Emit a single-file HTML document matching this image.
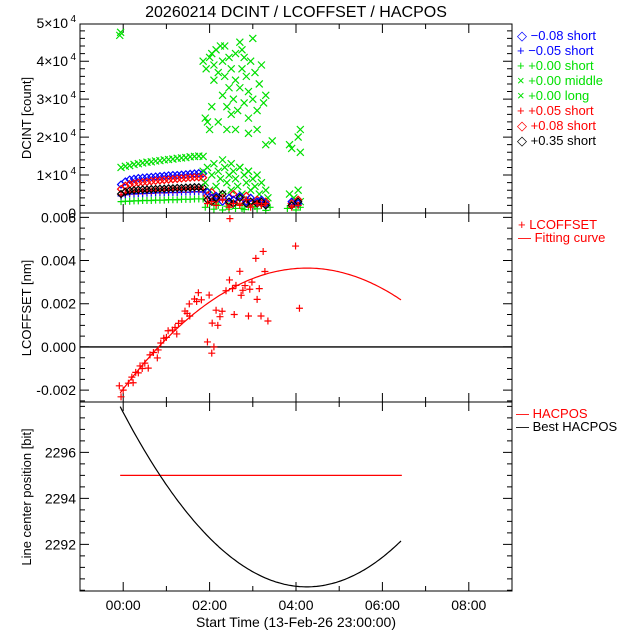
<!DOCTYPE html>
<html><head><meta charset="utf-8">
<style>
html,body{margin:0;padding:0;background:#fff;}
svg{display:block;font-family:"Liberation Sans",sans-serif;}
</style></head>
<body>
<svg id="chart" width="640" height="640" viewBox="0 0 640 640" xmlns="http://www.w3.org/2000/svg">
<rect x="0" y="0" width="640" height="640" fill="#fff"/>
<text x="296" y="17" font-size="16" text-anchor="middle" fill="#000">20260214 DCINT / LCOFFSET / HACPOS</text>
</svg>
<script>
// ---------- data ----------
const xTickLabels = ["00:00","02:00","04:00","06:00","08:00"];
const xTickHours = [0,2,4,6,8];
const bandT = [-0.05,0.05,0.15,0.25,0.35,0.45,0.55,0.65,0.75,0.85,0.95,1.05,1.15,1.25,1.35,1.45,1.55,1.65,1.75,1.85];
const greenLowBand = [3.0,3.1,3.1,3.2,3.2,3.3,3.3,3.3,3.4,3.4,3.4,3.5,3.5,3.5,3.6,3.6,3.6,3.7,3.7,3.7];
const greenHighBand = [12.0,12.3,12.5,12.8,13.0,13.2,13.4,13.5,13.7,13.8,14.0,14.1,14.2,14.4,14.5,14.6,14.8,14.9,15.0,14.9];
const blueDiamondBand = [7.5,8.3,8.8,9.0,9.2,9.3,9.4,9.5,9.6,9.7,9.8,9.9,10.0,10.0,10.1,10.2,10.3,10.4,10.5,10.4];
const redDiamondBand = [6.3,7.2,7.6,7.8,8.0,8.1,8.2,8.4,8.5,8.6,8.7,8.8,8.9,9.0,9.1,9.2,9.3,9.4,9.4,9.3];
const blackDiamondBand = [5.0,5.6,5.9,6.0,6.1,6.2,6.2,6.3,6.3,6.4,6.4,6.5,6.5,6.6,6.6,6.7,6.7,6.8,6.8,6.7];
const bluePlusBand = [4.5,4.8,5.0,5.0,5.1,5.1,5.2,5.2,5.3,5.3,5.3,5.4,5.4,5.4,5.5,5.5,5.5,5.6,5.6,5.5];
const redPlusBand = [4.8,5.3,5.5,5.6,5.7,5.7,5.8,5.8,5.9,5.9,6.0,6.0,6.1,6.1,6.2,6.2,6.3,6.3,6.3,6.2];
// scattered DCINT (thousands of counts)
const hiT = [-0.08,-0.06,1.85,1.9,1.95,2.0,1.92,2.0,2.05,2.1,2.1,2.15,2.2,2.25,2.3,2.3,2.35,2.4,2.45,2.45,2.5,2.5,2.55,2.6,2.6,2.65,2.7,2.7,2.75,2.8,2.8,2.85,2.9,2.9,2.95,3.0,3.05,3.1,3.15,3.2,3.25,3.3,2.05,2.2,2.4,2.6,2.9,3.1,3.3,3.85,3.9,4.05,4.1,4.1,3.45,2.35,2.75,3.0];
const hiV = [46.8,47.6,40,25,24,22,38,41,42,39,35,43,37,44,40,31,36,28,33,41,26,38,30,35,42,27,45,33,38,29,41,36,25,32,40,30,37,27,34,39,29,31,28,24,22,22,21,22,18,18,17,20,22,16,19,44,43,46];
const midT = [1.85,1.9,1.95,2.0,2.05,2.1,2.15,2.2,2.25,2.3,2.35,2.4,2.45,2.5,2.55,2.6,2.65,2.7,2.75,2.8,2.85,2.9,2.95,3.0,3.05,3.1,3.15,3.2,3.3,3.35,3.85,3.95,4.05,4.1,2.3,2.5,2.7,2.9];
const midV = [11,8,12,6,10,13,7,11,9,5,12,8,10,6,11,9,7,12,5,10,8,11,6,9,7,10,5,8,6,4,5,4,6,3,14,13,12,11];
const lowT = [1.9,2.0,2.1,2.2,2.3,2.4,2.5,2.6,2.7,2.8,2.9,3.0,3.1,3.2,3.3,3.4,2.15,2.45,2.75,3.05,3.8,4.0,4.1];
const lowV = [1.5,2.5,1.0,2.0,0.8,1.8,2.6,1.2,2.2,0.9,1.6,2.4,1.1,2.0,0.7,1.5,2.3,1.0,1.2,1.7,1.2,0.8,1.5];
const mixT = [1.95,2.05,2.15,2.3,2.45,2.55,2.7,2.85,2.95,3.1,3.2,3.3,3.9,4.05];
const mixRedD = [4.5,5.5,3.5,4.0,2.5,5.0,3.0,4.5,2.5,3.5,2.5,3.0,2.5,3.5];
const mixBlueD = [5.5,4.0,4.5,3.0,4.0,3.5,4.5,3.0,4.0,3.0,3.5,2.5,3.0,2.5];
const mixBlackD = [3.5,3.0,4.0,5.0,3.0,2.5,4.0,2.5,3.0,2.5,3.0,2.0,2.0,3.0];
const mixRedP = [2.5,3.0,2.0,3.5,1.5,2.5,2.0,3.5,1.5,2.5,2.0,2.5,1.5,2.0];
// LCOFFSET (units of 1e-3 nm)
const lcT = [-0.09,-0.05,0.0,0.12,0.20,0.23,0.29,0.35,0.39,0.44,0.50,0.58,0.62,0.70,0.79,0.81,0.87,0.94,1.0,1.04,1.14,1.2,1.24,1.28,1.36,1.43,1.48,1.54,1.53,1.65,1.70,1.74,1.81,1.95,1.99,2.05,2.06,2.1,2.15,2.19,2.24,2.29,2.38,2.47,2.46,2.53,2.57,2.61,2.70,2.73,2.77,2.82,2.9,2.93,2.98,3.07,3.1,3.15,3.19,3.24,3.28,3.35,3.99,4.08];
const lcV = [-1.80,-2.31,-2.0,-1.68,-1.40,-1.66,-1.18,-1.2,-0.88,-1.0,-0.75,-0.98,-0.37,-0.26,-0.51,-0.14,0.18,0.40,0.44,0.75,0.78,0.9,0.60,1.09,1.2,1.66,1.55,1.43,1.99,2.22,2.1,2.51,2.18,0.23,2.4,-0.29,1.1,0.0,1.7,1.0,1.4,1.65,2.6,5.94,3.1,2.7,1.5,2.85,3.5,2.39,2.62,2.84,1.43,2.67,3.0,4.1,2.2,2.7,1.43,4.42,3.49,1.2,4.67,1.79];
// fit / HACPOS curve parameters
const fitPeakT = 4.25, fitPeakV = 3.65, fitK = 0.31; // LCOFFSET fit (1e-3 nm)
const hacMinT = 4.25, hacMinV = 2290.15, hacK = 0.42;
const hacposValue = 2295;
const curveStart = -0.07, curveEnd = 6.45;
const p1Ticks = [0,10,20,30,40,50];
const p1TickLabels = ["0","1×10","2×10","3×10","4×10","5×10"];
const p2Ticks = [-2,0,2,4,6];
const p2TickLabels = ["-0.002","0.000","0.002","0.004","0.006"];
const p3Ticks = [2292,2294,2296];
const p3TickLabels = ["2292","2294","2296"];

// ---------- helpers ----------
const svg = document.getElementById('chart');
const NS = 'http://www.w3.org/2000/svg';
const L = 80, R = 512;
const xS = t => L + (t + 1) / 10 * (R - L);
const P1 = {top:24, bot:213, min:0, max:49.8};
const P2 = {top:213, bot:402, min:-2.55, max:6.2};
const P3 = {top:402, bot:591, min:2289.97, max:2298.19};
const yS = (p, v) => p.bot - (v - p.min) / (p.max - p.min) * (p.bot - p.top);
function mk(tag, attrs, parent) {
  const e = document.createElementNS(NS, tag);
  for (const k in attrs) e.setAttribute(k, attrs[k]);
  (parent || svg).appendChild(e);
  return e;
}
function marker(type, x, y, color, g) {
  const s = 3.5;
  let d;
  if (type === 'plus') d = `M${x-s},${y}H${x+s}M${x},${y-s}V${y+s}`;
  else if (type === 'x') d = `M${x-s},${y-s}L${x+s},${y+s}M${x-s},${y+s}L${x+s},${y-s}`;
  else d = `M${x},${y-s}L${x+s},${y}L${x},${y+s}L${x-s},${y}Z`;
  const e = mk('path', {d:d, stroke:color, 'stroke-width':1.2, fill:'none'}, g);
  
  
}
function series(name, ts, vs, p, type, color) {
  const g = mk('g', {});
  
  
  for (let i = 0; i < ts.length; i++) marker(type, xS(ts[i]), yS(p, vs[i]), color, g);
}
function frame(p, name, ticks, labels, minorStep, sup) {
  const g = mk('g', {});
  
  
  mk('rect', {x:L, y:p.top, width:R-L, height:p.bot-p.top, fill:'none', stroke:'#000', 'stroke-width':1}, g);
  let d = '';
  for (let h = -1; h <= 9; h += 1) {
    const x = xS(h); const len = (h % 2 === 0) ? 9 : 5;
    d += `M${x},${p.bot}V${p.bot-len}M${x},${p.top}V${p.top+len}`;
  }
  for (let v = Math.ceil(p.min / minorStep) * minorStep; v <= p.max + 1e-9; v += minorStep) {
    const y = yS(p, v); const maj = ticks.some(t => Math.abs(t - v) < 1e-6); const len = maj ? 9 : 5;
    d += `M${L},${y}H${L+len}M${R},${y}H${R-len}`;
  }
  mk('path', {d:d, stroke:'#000', 'stroke-width':1, fill:'none'}, g);
  ticks.forEach((t, i) => {
    const tx = mk('text', {x:L-4, y:yS(p, t)+5, 'font-size':14, 'text-anchor':'end', fill:'#000'}, g);
    
    
    if (sup && labels[i] !== '0') {
      tx.setAttribute('x', L-12);
      tx.textContent = labels[i];
      const s = mk('text', {x:L-4, y:yS(p, t)-1, 'font-size':10, 'text-anchor':'end', fill:'#000'}, g);
      s.textContent = '4';
    } else tx.textContent = labels[i];
  });
}
function ylabel(text, x, y, name) {
  const t = mk('text', {x:x, y:y, 'font-size':13, 'text-anchor':'middle', fill:'#000', transform:`rotate(-90 ${x} ${y})`});
  
  
  t.textContent = text;
}
function legendItem(sym, label, x, y, color, name) {
  const t = mk('text', {x:x, y:y, 'font-size':13, fill:color});
  
  
  t.textContent = sym + ' ' + label;
}

// ---------- panel 1 ----------
frame(P1, 'dcint', p1Ticks, p1TickLabels, 2, true);
ylabel('DCINT [count]', 31, 118, 'dcint-y-title');
series('green-short-band', bandT, greenLowBand, P1, 'plus', '#00e000');
series('green-middle-band', bandT, greenHighBand, P1, 'x', '#00e000');
series('blue-diamond-band', bandT, blueDiamondBand, P1, 'diamond', '#0000ff');
series('red-diamond-band', bandT, redDiamondBand, P1, 'diamond', '#ff0000');
series('blue-plus-band', bandT, bluePlusBand, P1, 'plus', '#0000ff');
series('red-plus-band', bandT, redPlusBand, P1, 'plus', '#ff0000');
series('black-diamond-band', bandT, blackDiamondBand, P1, 'diamond', '#000');
series('green-high-scatter', hiT, hiV, P1, 'x', '#00e000');
series('green-mid-scatter', midT, midV, P1, 'x', '#00e000');
series('green-low-scatter', lowT, lowV, P1, 'plus', '#00e000');
series('red-diamond-scatter', mixT, mixRedD, P1, 'diamond', '#ff0000');
series('blue-diamond-scatter', mixT, mixBlueD, P1, 'diamond', '#0000ff');
series('black-diamond-scatter', mixT, mixBlackD, P1, 'diamond', '#000');
series('red-plus-scatter', mixT, mixRedP, P1, 'plus', '#ff0000');
const leg1 = [['◇','−0.08 short','#0000ff'],['+','−0.05 short','#0000ff'],['+','+0.00 short','#00e000'],['×','+0.00 middle','#00e000'],['×','+0.00 long','#00e000'],['+','+0.05 short','#ff0000'],['◇','+0.08 short','#ff0000'],['◇','+0.35 short','#000']];
leg1.forEach((l, i) => legendItem(l[0], ' ' + l[1], 517, 40 + i * 15, l[2], 'legend-entry'));

// ---------- panel 2 ----------
frame(P2, 'lcoffset', p2Ticks, p2TickLabels, 0.5, false);
ylabel('LCOFFSET [nm]', 31, 308, 'lcoffset-y-title');
const z = mk('line', {x1:L, x2:R, y1:yS(P2,0), y2:yS(P2,0), stroke:'#000', 'stroke-width':1.3});


series('lcoffset-points', lcT, lcV, P2, 'plus', '#ff0000');
let fd = '';
for (let t = curveStart; t <= curveEnd + 1e-9; t += 0.05) {
  const v = fitPeakV - fitK * (t - fitPeakT) ** 2;
  fd += (fd ? 'L' : 'M') + xS(t).toFixed(1) + ',' + yS(P2, v).toFixed(1);
}
const fc = mk('path', {d:fd, stroke:'#ff0000', 'stroke-width':1.2, fill:'none'});


legendItem('+', ' LCOFFSET', 518, 229, '#ff0000', 'legend-lcoffset');
legendItem('—', 'Fitting curve', 518, 242, '#ff0000', 'legend-fitting-curve');

// ---------- panel 3 ----------
frame(P3, 'hacpos', p3Ticks, p3TickLabels, 0.5, false);
ylabel('Line center position [bit]', 31, 497, 'hacpos-y-title');
const hl = mk('line', {x1:xS(curveStart), x2:xS(curveEnd), y1:yS(P3,hacposValue), y2:yS(P3,hacposValue), stroke:'#ff0000', 'stroke-width':1.2});


let hd = '';
for (let t = curveStart; t <= curveEnd + 1e-9; t += 0.05) {
  const v = hacMinV + hacK * (t - hacMinT) ** 2;
  hd += (hd ? 'L' : 'M') + xS(t).toFixed(1) + ',' + yS(P3, v).toFixed(1);
}
const hc = mk('path', {d:hd, stroke:'#000', 'stroke-width':1.2, fill:'none'});


legendItem('—', 'HACPOS', 516, 418, '#ff0000', 'legend-hacpos');
legendItem('—', 'Best HACPOS', 516, 431, '#000', 'legend-best-hacpos');

// ---------- x axis labels ----------
xTickHours.forEach((h, i) => {
  const t = mk('text', {x:xS(h), y:610, 'font-size':14, 'text-anchor':'middle', fill:'#000'});
  
  
  t.textContent = xTickLabels[i];
});
const xt = mk('text', {x:296, y:627, 'font-size':14, 'text-anchor':'middle', fill:'#000'});


xt.textContent = 'Start Time (13-Feb-26 23:00:00)';
</script>
</body></html>
